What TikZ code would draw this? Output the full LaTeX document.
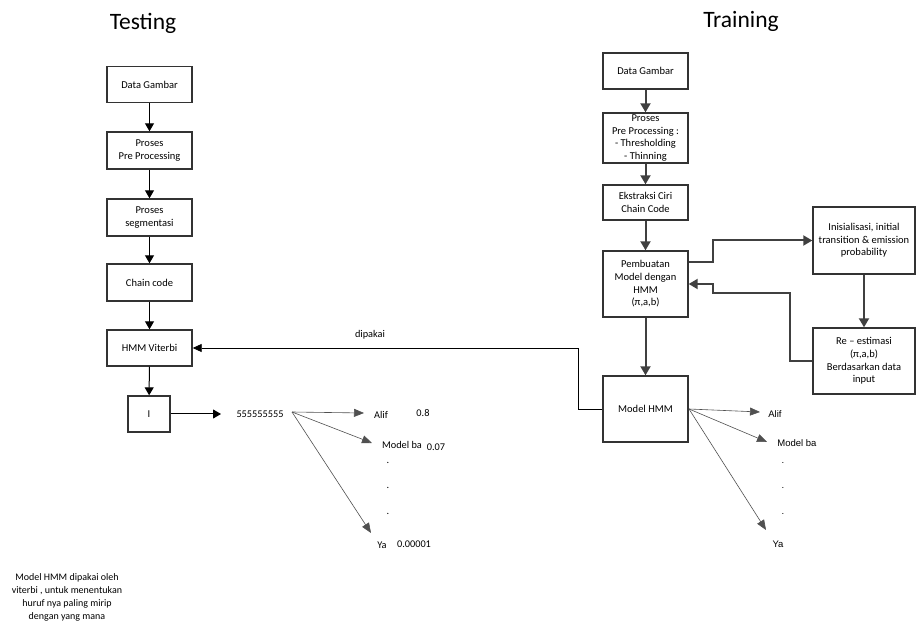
\documentclass[tikz,border=0pt]{standalone}
\usepackage{fontspec}
\setmainfont{Carlito}
\newfontfamily\arialf{Liberation Sans}
\usetikzlibrary{arrows.meta,calc}
\definecolor{bx}{HTML}{333333}
\definecolor{rg}{HTML}{404040}
\definecolor{fg}{HTML}{505050}
\begin{document}
\begin{tikzpicture}[x=1pt,y=-1pt,
  every node/.style={font=\fontsize{10.5}{12.7}\selectfont, inner sep=0pt},
  box/.style={draw=bx, line width=1.4pt, fill=white, align=center, minimum width=85pt},
  larrow/.style={draw=black, line width=1pt, -{Triangle[length=8pt,width=9pt]}},
  rarrow/.style={draw=rg, line width=2pt, -{Triangle[length=9pt,width=10pt]}},
  fan/.style={draw=fg, line width=0.6pt, -{Triangle[length=10pt,width=8pt]}},
  thinarrow/.style={draw=black, line width=0.8pt, -{Triangle[length=9pt,width=8pt]}},
  title/.style={font=\fontsize{23.5}{28}\selectfont},
  lab/.style={font=\fontsize{10.3}{12}\selectfont},
  rlab/.style={font=\arialf\fontsize{9.5}{11}\selectfont}
]
\useasboundingbox (0,0) rectangle (922,628);
\fill[white] (0,0) rectangle (922,628);

% titles
\node[title] (tTest) at (143,23) {Testing};
\node[title] (tTrain) at (741,21) {Training};

% left column
\node[box, minimum height=36pt] (lg1) at (149.5,84.5) {Data Gambar};
\node[box, minimum height=37pt] (lg2) at (149.5,150.5) {Proses\\Pre Processing};
\node[box, minimum height=37pt] (lg3) at (149.5,217.5) {Proses\\segmentasi};
\node[box, minimum height=37pt] (lg4) at (149.5,282.5) {Chain code};
\node[box, minimum height=36pt] (lg5) at (149.5,348) {HMM Viterbi};
\node[box, minimum height=36pt, minimum width=42pt] (lI) at (149,414) {I};

\draw[larrow] (lg1) -- (lg2);
\draw[larrow] (lg2) -- (lg3);
\draw[larrow] (lg3) -- (lg4);
\draw[larrow] (lg4) -- (lg5);
\draw[larrow] (lg5) -- (lI);

\node[lab] (s5) at (260,414) {555555555};
\coordinate (iend) at (221,414);
\draw[larrow] (lI) -- (iend);

\coordinate (fs) at (292,412);
\coordinate (ta) at (364,413);
\coordinate (tb) at (372,443);
\coordinate (tc) at (371,533);
\draw[fan] (fs) -- (ta);
\draw[fan] (fs) -- (tb);
\draw[fan] (fs) -- (tc);

\node[lab] (la) at (381,415) {Alif};
\node[lab] (lav) at (423,413) {0.8};
\node[lab] (lb) at (402,445) {Model ba};
\node[lab] (lbv) at (436,447) {0.07};
\node[lab] (ld1) at (388,463) {.};
\node[lab] (ld2) at (388,488) {.};
\node[lab] (ld3) at (388,514) {.};
\node[lab] (lc) at (382,545) {Ya};
\node[lab] (lcv) at (414,544) {0.00001};

\node[lab, align=center, font=\fontsize{10}{13}\selectfont] (note) at (67,597)
  {Model HMM dipakai oleh\\viterbi , untuk menentukan\\huruf nya paling mirip\\dengan yang mana};

% right column
\node[box, minimum height=36pt] (r1) at (645.5,71) {Data Gambar};
\node[box, minimum height=50pt] (r2) at (645.5,138) {Proses\\Pre Processing :\\- Thresholding\\- Thinning};
\node[box, minimum height=35pt] (r3) at (645.5,202.5) {Ekstraksi Ciri\\Chain Code};
\node[box, minimum height=66pt] (r4) at (645.5,284) {Pembuatan\\Model dengan\\HMM\\(π,a,b)};
\node[box, minimum height=66pt] (r5) at (645.5,409) {Model HMM};
\node[box, minimum height=67pt, minimum width=102pt] (ri) at (864,240.5) {Inisialisasi, initial\\transition \& emission\\probability};
\node[box, minimum height=66pt, minimum width=102pt] (rr) at (864,361) {Re – estimasi\\(π,a,b)\\Berdasarkan data\\input};

\draw[rarrow] (r1) -- (r2);
\draw[rarrow] (r2) -- (r3);
\draw[rarrow] (r3) -- (r4);
\draw[rarrow] (r4) -- (r5);
\draw[rarrow] (ri) -- (rr);
\draw[rarrow] ([yshift=22pt]r4.east) -- (713,262) -- (713,240.5) -- (ri.west);
\draw[rarrow] (rr.west) -- (790,361) -- (790,293) -- (713,293) -- (713,284) -- (r4.east);

% dipakai link
\draw[thinarrow] (r5.west) -- (578,409) -- (578,348) -- (lg5.east);
\node[lab] (dip) at (370,335) {dipakai};

% right fan
\coordinate (rs) at (689,409);
\coordinate (rta) at (760,412);
\coordinate (rtb) at (767,442);
\coordinate (rtc) at (766,530);
\draw[fan] (rs) -- (rta);
\draw[fan] (rs) -- (rtb);
\draw[fan] (rs) -- (rtc);
\node[rlab] (ra) at (775,414) {Alif};
\node[rlab] (rb) at (797,443) {Model ba};
\node[rlab] (rd1) at (783,463) {.};
\node[rlab] (rd2) at (783,488) {.};
\node[rlab] (rd3) at (783,514) {.};
\node[rlab] (rc) at (778,544) {Ya};
\end{tikzpicture}
\end{document}
